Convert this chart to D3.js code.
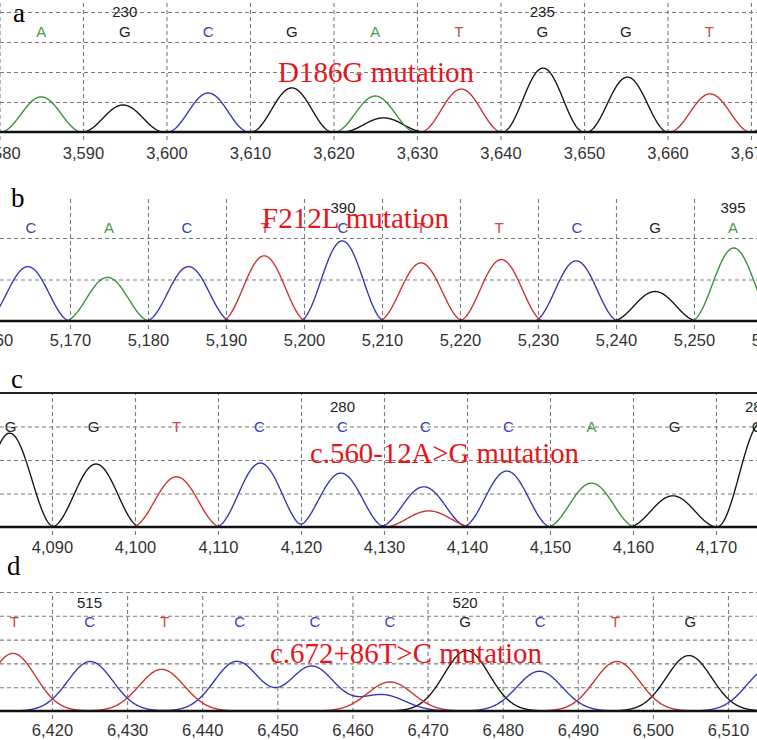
<!DOCTYPE html>
<html><head><meta charset="utf-8">
<script src="https://cdn.jsdelivr.net/npm/d3@7"></script>
<style>html,body{margin:0;padding:0;background:#fff;overflow:hidden}</style>
</head><body><svg id="chart" width="757" height="740"></svg>
<script>
// ---------- Panel a ----------
const aPeakBase   = ["A","G","C","G","A","G","T","G","G","T","G"];
const aPeakPos    = [3585,3594.8,3605,3615,3625,3626,3635.3,3645.1,3655.2,3665.1,3675];
const aPeakHeight = [1.17,0.9,1.3,1.47,1.2,0.47,1.43,2.13,1.83,1.27,1.6];
const aCalls      = ["A","G","C","G","A","T","G","G","T"];
const aCallPos    = [3585,3595,3605,3615,3625,3635,3645,3655,3665];
const aNumText    = ["230","235"];
const aNumPos     = [3595,3645];
const aTicks      = [3580,3590,3600,3610,3620,3630,3640,3650,3660,3670];
const aTitle      = "D186G mutation";

// ---------- Panel b ----------
const bPeakBase   = ["C","A","C","T","C","T","T","C","G","A"];
const bPeakPos    = [5164.6,5174.8,5185.2,5194.9,5204.9,5215,5225.3,5234.9,5245,5255.1];
const bPeakHeight = [1.31,1.05,1.31,1.57,1.93,1.40,1.48,1.45,0.71,1.76];
const bCalls      = ["C","A","C","T","C","T","T","C","G","A"];
const bCallPos    = [5165,5175,5185,5195,5205,5215,5225,5235,5245,5255];
const bNumText    = ["390","395"];
const bNumPos     = [5205,5255];
const bTicks      = [5160,5170,5180,5190,5200,5210,5220,5230,5240,5250,5260];
const bTitle      = "F212L mutation";

// ---------- Panel c ----------
const cPeakBase   = ["G","G","T","C","C","C","T","C","A","G","G"];
const cPeakPos    = [4084.9,4095.3,4105,4115.1,4124.8,4134.8,4135.4,4144.8,4155,4164.8,4175.5];
const cPeakHeight = [2.8,1.88,1.5,1.91,1.61,1.2,0.48,1.67,1.31,0.93,3.13];
const cCalls      = ["G","G","T","C","C","C","C","A","G","G"];
const cCallPos    = [4085,4095,4105,4115,4125,4135,4145,4155,4165,4175];
const cNumText    = ["280","285"];
const cNumPos     = [4125,4175];
const cTicks      = [4080,4090,4100,4110,4120,4130,4140,4150,4160,4170,4180];
const cTitle      = "c.560-12A>G mutation";

// ---------- Panel d ----------
const dPeakBase   = ["T","C","T","C","C","C","T","G","C","T","G","C"];
const dPeakPos    = [6414.8,6425.1,6434.6,6444.6,6454.6,6464,6465,6475.2,6484.9,6495.2,6504.8,6515.5];
const dPeakHeight = [2.42,2.08,1.75,2.08,1.88,0.68,1.22,2.54,1.67,2.08,2.33,1.8];
const dCalls      = ["T","C","T","C","C","C","G","C","T","G"];
const dCallPos    = [6415,6425,6435,6445,6455,6465,6475,6485,6495,6505];
const dNumText    = ["515","520"];
const dNumPos     = [6425,6475];
const dTicks      = [6410,6420,6430,6440,6450,6460,6470,6480,6490,6500,6510,6520];
const dTitle      = "c.672+86T>C mutation";

// ---------- drawing ----------
const W = 757;
const svg = d3.select("#chart");
const traceColor = {A:"#3a8e3a", C:"#3434b4", G:"#141414", T:"#c93030"};
const callColor  = {A:"#4a9a4a", C:"#3c3cc4", G:"#222222", T:"#d24848"};
const fmt = d3.format(",");

const panels = [
  {letter:"a", base:aPeakBase, pos:aPeakPos, h:aPeakHeight, calls:aCalls, callPos:aCallPos, numText:aNumText, numPos:aNumPos, ticks:aTicks, title:aTitle,
   xDom:[3590,3670], xRng:[83,751], y0:132, unit:30, hgrid:[1,2,3,4], top:0, topSolid:false,
   kernel:{type:"cos", w:4.9}, callY:32, numY:12, tickY:153, titleX:278, titleW:196, titleY:82, letterX:13, letterY:22},
  {letter:"b", base:bPeakBase, pos:bPeakPos, h:bPeakHeight, calls:bCalls, callPos:bCallPos, numText:bNumText, numPos:bNumPos, ticks:bTicks, title:bTitle,
   xDom:[5170,5250], xRng:[70,694], y0:321, unit:41.5, hgrid:[1,2], top:197, topSolid:false,
   kernel:{type:"cos", w:5.5}, callY:228, numY:208, tickY:340, titleX:262, titleW:187, titleY:228, letterX:11, letterY:207},
  {letter:"c", base:cPeakBase, pos:cPeakPos, h:cPeakHeight, calls:cCalls, callPos:cCallPos, numText:cNumText, numPos:cNumPos, ticks:cTicks, title:cTitle,
   xDom:[4090,4170], xRng:[52,716], y0:527, unit:33.5, hgrid:[1,2,3], top:393, topSolid:true,
   kernel:{type:"cos", w:5.4}, callY:427, numY:407, tickY:547, titleX:310, titleW:269, titleY:463, letterX:11, letterY:388},
  {letter:"d", base:dPeakBase, pos:dPeakPos, h:dPeakHeight, calls:dCalls, callPos:dCallPos, numText:dNumText, numPos:dNumPos, ticks:dTicks, title:dTitle,
   xDom:[6420,6510], xRng:[52,728], y0:711, unit:23.8, hgrid:[1,2,3,4,5], top:592, topSolid:false,
   kernel:{type:"gauss", s:3.0}, callY:622, numY:603, tickY:730, titleX:270, titleW:272, titleY:663, letterX:7, letterY:575}
];

function kern(k, d) {
  if (k.type === "cos") return Math.abs(d) < k.w ? 0.5 + 0.5 * Math.cos(Math.PI * d / k.w) : 0;
  return Math.exp(-0.5 * (d / k.s) * (d / k.s));
}

panels.forEach(p => {
  const x = d3.scaleLinear().domain(p.xDom).range(p.xRng);
  const y = d3.scaleLinear().domain([0, 1]).range([p.y0, p.y0 - p.unit]);
  const g = svg.append("g");

  // horizontal dashed gridlines
  g.append("g")
    .call(d3.axisLeft(y).tickValues(p.hgrid).tickSize(-W).tickFormat(""))
    .call(s => {
      s.select(".domain").remove();
      s.selectAll("line").attr("stroke", "#7a7a7a").attr("stroke-width", 1.1).attr("stroke-dasharray", "4,3");
    });

  // vertical dashed gridlines
  const vBottom = p.y0 + 8;
  g.append("g")
    .attr("transform", `translate(0,${vBottom})`)
    .call(d3.axisBottom(x).tickValues(p.ticks).tickSize(-(vBottom - p.top)).tickFormat(""))
    .call(s => {
      s.select(".domain").remove();
      s.selectAll("line").attr("stroke", "#7a7a7a").attr("stroke-width", 1.1).attr("stroke-dasharray", "4,3");
    });

  if (p.topSolid) {
    g.append("line").attr("x1", 0).attr("x2", W).attr("y1", p.top).attr("y2", p.top)
      .attr("stroke", "#222").attr("stroke-width", 2);
  }

  // traces per channel
  const t0 = x.invert(-4), t1 = x.invert(W + 4);
  const samples = d3.range(t0, t1, 0.05);
  const line = d3.line().x(d => x(d[0])).y(d => y(d[1]));
  ["G", "A", "C", "T"].forEach(ch => {
    const idx = d3.range(p.base.length).filter(i => p.base[i] === ch);
    if (!idx.length) return;
    const pts = samples.map(t => [t, d3.sum(idx, i => p.h[i] * kern(p.kernel, t - p.pos[i]))]);
    g.append("path").attr("d", line(pts)).attr("fill", "none")
      .attr("stroke", traceColor[ch]).attr("stroke-width", 1.35).attr("stroke-linejoin", "round");
  });

  // baseline
  g.append("line").attr("x1", 0).attr("x2", W).attr("y1", p.y0).attr("y2", p.y0)
    .attr("stroke", "#111").attr("stroke-width", 2.4);

  // tick labels
  g.append("g")
    .attr("transform", `translate(0,${p.tickY})`)
    .call(d3.axisBottom(x).tickValues(p.ticks).tickSize(0).tickFormat(fmt))
    .call(s => {
      s.select(".domain").remove();
      s.attr("font-family", "'Liberation Sans', Arial, sans-serif").attr("font-size", 16.5);
      s.selectAll("text").attr("y", 0).attr("dy", "0.35em").attr("fill", "#333");
    });

  // base calls
  g.append("g").selectAll("text").data(p.calls).join("text")
    .attr("x", (d, i) => x(p.callPos[i])).attr("y", p.callY).attr("dy", "0.36em")
    .attr("text-anchor", "middle")
    .attr("font-family", "'Liberation Sans', Arial, sans-serif").attr("font-size", 15)
    .attr("fill", d => callColor[d]).text(d => d);

  // position numbers
  g.append("g").selectAll("text").data(p.numText).join("text")
    .attr("x", (d, i) => x(p.numPos[i])).attr("y", p.numY).attr("dy", "0.36em")
    .attr("text-anchor", "middle")
    .attr("font-family", "'Liberation Sans', Arial, sans-serif").attr("font-size", 15)
    .attr("fill", "#222").text(d => d);

  // panel letter
  g.append("text").attr("x", p.letterX).attr("y", p.letterY)
    .attr("font-family", "'Liberation Serif', 'Times New Roman', serif").attr("font-size", 27)
    .attr("fill", "#000").text(p.letter);

  // mutation annotation
  g.append("text").attr("x", p.titleX).attr("y", p.titleY)
    .attr("font-family", "'Liberation Serif', 'Times New Roman', serif").attr("font-size", 29)
    .attr("textLength", p.titleW).attr("lengthAdjust", "spacingAndGlyphs")
    .attr("fill", "#e6151c").text(p.title);
});
</script>
</body></html>
